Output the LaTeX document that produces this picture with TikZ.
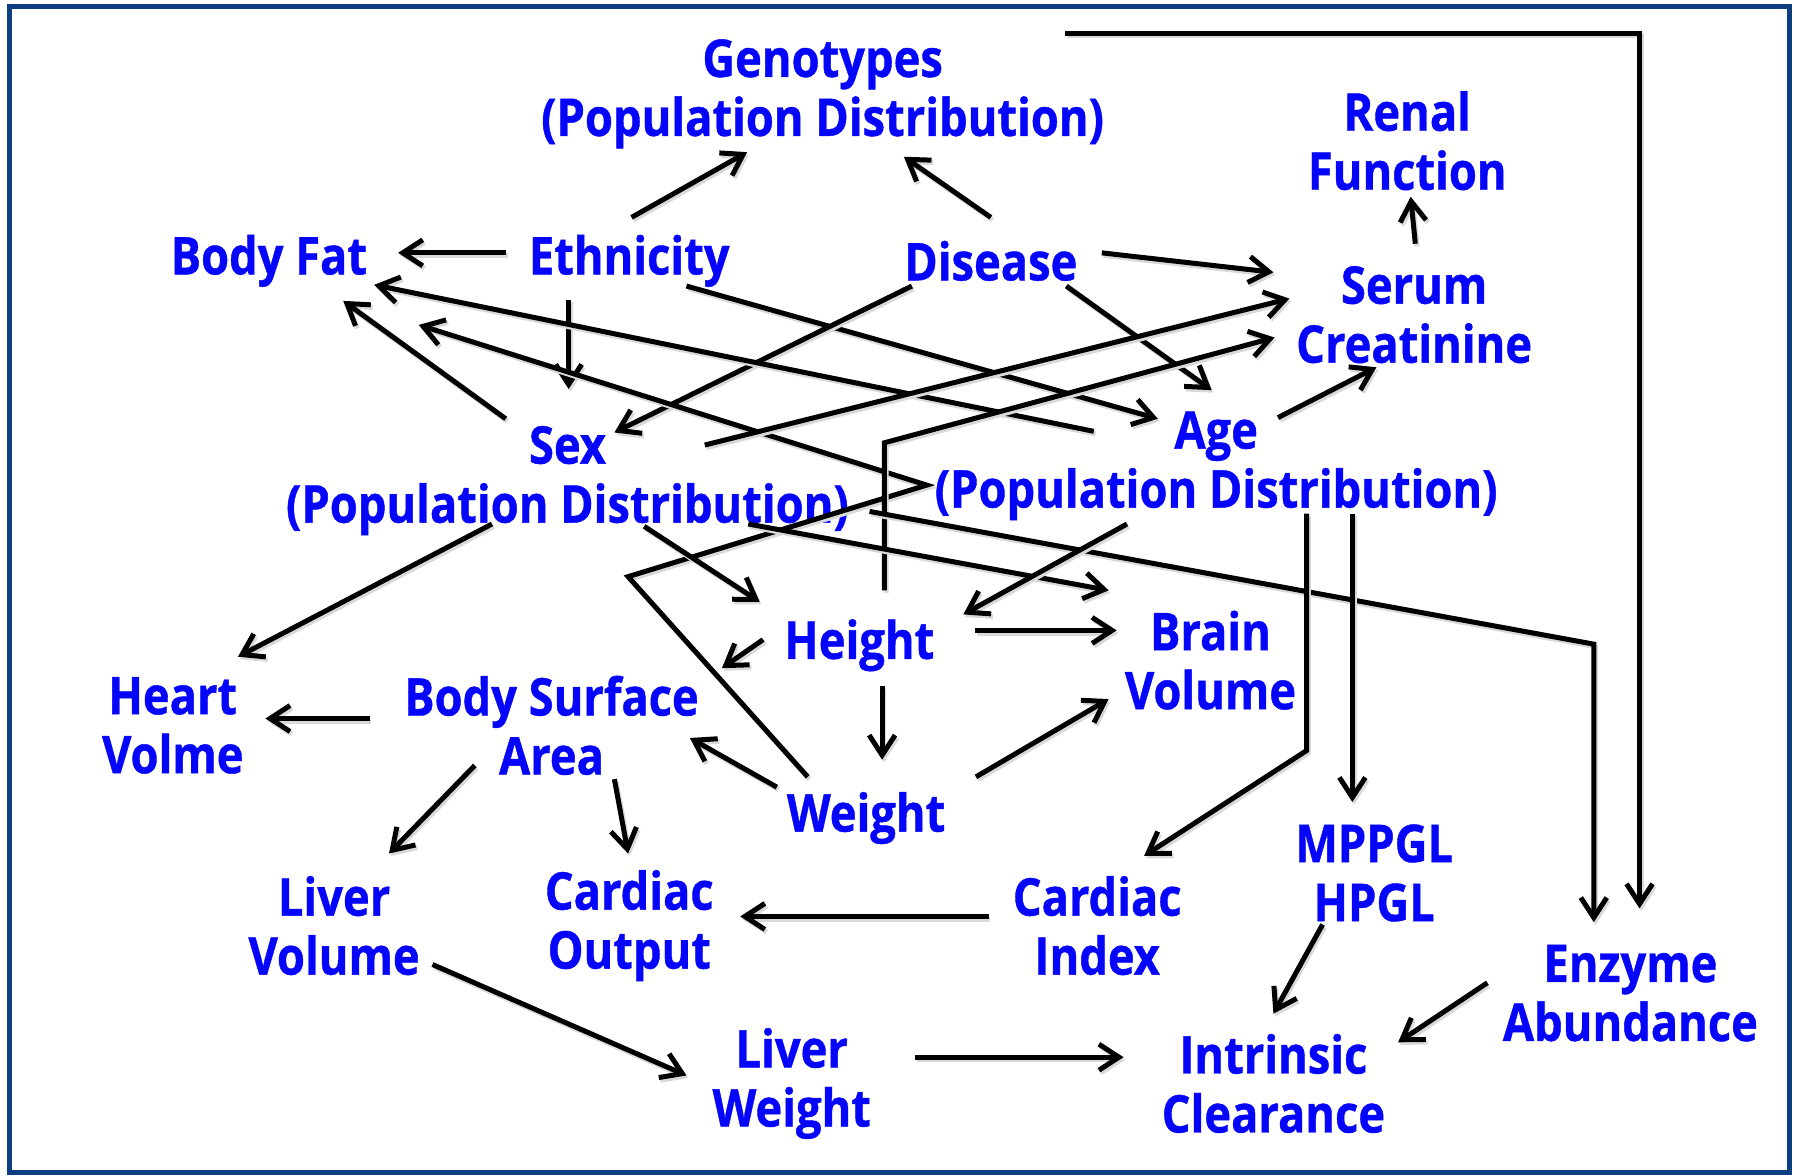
\documentclass[tikz,border=0pt]{standalone}
\usepackage{fontspec}
\newfontfamily\lblfont{Open Sans}[FakeStretch=0.87,BoldFeatures={FakeBold=0.8}]
\usetikzlibrary{arrows.meta,calc}
\definecolor{framec}{RGB}{12,62,128}
\definecolor{txt}{RGB}{5,5,250}
\begin{document}
\begin{tikzpicture}[x=0.57205pt,y=-0.57205pt,
  lbl/.style={text=txt, font=\lblfont\bfseries\fontsize{26}{29.5}\selectfont, align=center, inner sep=0pt},
  arr/.style={draw=black, line width=2.5pt, -{Straight Barb[length=10pt,width=13pt]},
    preaction={draw=black!15, line width=2.5pt, transform canvas={shift={(0.9pt,-1.3pt)}}}},
  frame/.style={draw=framec, line width=2.5pt}]
\useasboundingbox (0,0) rectangle (1568,1027);
\draw[frame] (8.3,5.7) rectangle (1564.1,1024.8);

% nodes
\node[lbl] (geno) at (719,82) {Genotypes\\(Population Distribution)};
\node[lbl] (renal) at (1230,123) {Renal\\Function};
\node[lbl] (bodyfat) at (235,228) {Body Fat};
\node[lbl] (eth) at (550,228) {Ethnicity};
\node[lbl] (dis) at (866,228) {Disease};
\node[lbl] (serum) at (1236,275) {Serum\\Creatinine};
\node[lbl] (sex) at (496,420) {Sex\\(Population Distribution)};
\node[lbl] (age) at (1063,407) {Age\\(Population Distribution)};
\node[lbl] (heart) at (151,634) {Heart\\Volme};
\node[lbl] (bsa) at (482,634) {Body Surface\\Area};
\node[lbl] (height) at (751,564) {Height};
\node[lbl] (brain) at (1058,577) {Brain\\Volume};
\node[lbl] (weight) at (757,715) {Weight};
\node[lbl] (livervol) at (292,809) {Liver\\Volume};
\node[lbl] (cout) at (550,809) {Cardiac\\Output};
\node[lbl] (cindex) at (959,809) {Cardiac\\Index};
\node[lbl] (mppgl) at (1201,763) {MPPGL\\HPGL};
\node[lbl] (enzyme) at (1425,868) {Enzyme\\Abundance};
\node[lbl] (liverw) at (692,947) {Liver\\Weight};
\node[lbl] (intr) at (1113,947) {Intrinsic\\Clearance};

% bend points
\coordinate (wb1) at (549,504);
\coordinate (wb2) at (810,424);
\coordinate (hs1) at (773,387);
\coordinate (se1) at (1393,563);
\coordinate (ac1) at (1142,656);
\coordinate (ge1) at (1433,29);

% connectors
\draw[arr] ($(eth)+(2,-38)$) -- ($(geno)+(-66,51)$);
\draw[arr] ($(dis)+(0,-38)$) -- ($(geno)+(71,55)$);
\draw[arr] ($(eth)+(-108,-7)$) -- ($(bodyfat)+(113,-7)$);
\draw[arr] ($(eth)+(-53,34)$) -- ($(sex)+(1,-80)$);
\draw[arr] ($(eth)+(50,22)$) -- ($(age)+(-51,-41)$);
\draw[arr] ($(dis)+(97,-7)$) -- ($(serum)+(-123,-37)$);
\draw[arr] ($(dis)+(66,22)$) -- ($(age)+(-4,-66)$);
\draw[arr] ($(dis)+(-69,22)$) -- ($(sex)+(41,-42)$);
\draw[arr] ($(serum)+(1,-62)$) -- ($(renal)+(3,49)$);
\draw[arr] ($(age)+(54,-42)$) -- ($(serum)+(-33,46)$);
\draw[arr] ($(age)+(-107,-30)$) -- ($(bodyfat)+(92,21)$);
\draw[arr] ($(sex)+(-54,-54)$) -- ($(bodyfat)+(65,35)$);
\draw[arr] ($(weight)+(-51,-36)$) -- (wb1) -- (wb2) -- ($(bodyfat)+(131,56)$);
\draw[arr] ($(height)+(22,-48)$) -- (hs1) -- ($(serum)+(-122,20)$);
\draw[arr] ($(sex)+(120,-31)$) -- ($(serum)+(-109,-14)$);
\draw[arr] ($(sex)+(-66,38)$) -- ($(heart)+(57,-60)$);
\draw[arr] ($(sex)+(67,40)$) -- ($(height)+(-87,-38)$);
\draw[arr] ($(sex)+(158,38)$) -- ($(brain)+(-89,-61)$);
\draw[arr] ($(sex)+(264,27)$) -- (se1) -- ($(enzyme)+(-32,-62)$);
\draw[arr] ($(age)+(-78,51)$) -- ($(height)+(91,-27)$);
\draw[arr] ($(age)+(79,42)$) -- (ac1) -- ($(cindex)+(41,-61)$);
\draw[arr] ($(age)+(119,42)$) -- ($(mppgl)+(-19,-62)$);
\draw[arr] ($(geno)+(212,-53)$) -- (ge1) -- ($(enzyme)+(8,-74)$);
\draw[arr] ($(height)+(-84,-5)$) -- ($(bsa)+(149,-50)$);
\draw[arr] ($(height)+(101,-13)$) -- ($(brain)+(-82,-26)$);
\draw[arr] ($(height)+(20,36)$) -- ($(weight)+(14,-51)$);
\draw[arr] ($(weight)+(-78,-27)$) -- ($(bsa)+(121,11)$);
\draw[arr] ($(weight)+(96,-36)$) -- ($(brain)+(-89,34)$);
\draw[arr] ($(bsa)+(-159,-6)$) -- ($(heart)+(81,-6)$);
\draw[arr] ($(bsa)+(-67,35)$) -- ($(livervol)+(48,-63)$);
\draw[arr] ($(bsa)+(55,47)$) -- ($(cout)+(-1,-63)$);
\draw[arr] ($(cindex)+(-95,-8)$) -- ($(cout)+(97,-8)$);
\draw[arr] ($(livervol)+(86,34)$) -- ($(liverw)+(-92,-7)$);
\draw[arr] ($(liverw)+(108,-23)$) -- ($(intr)+(-131,-23)$);
\draw[arr] ($(mppgl)+(-45,45)$) -- ($(intr)+(0,-61)$);
\draw[arr] ($(enzyme)+(-125,-9)$) -- ($(intr)+(109,-36)$);
\end{tikzpicture}
\end{document}
